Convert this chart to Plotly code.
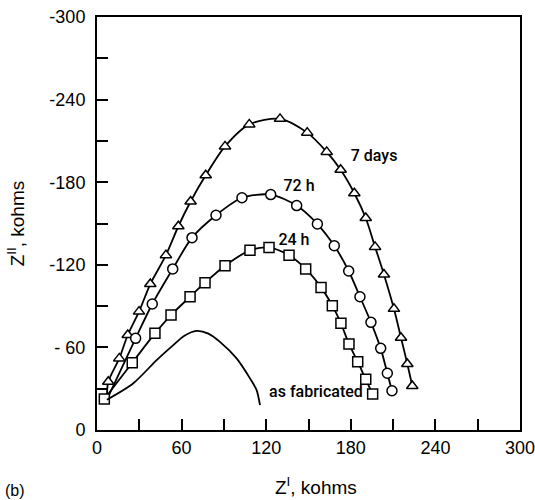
import plotly.graph_objects as go

start_point = (7, -22)

days7_x = [8.0, 15.8, 21.8, 29.8, 37.8, 48.9, 57.7, 66.4, 77.1, 90.8, 108, 129.8, 149.1, 162.9, 172.8, 182.5, 190.6, 197.2, 203.5, 210.6, 215.6, 220.1, 223.6]
days7_y = [-35, -52, -69, -86, -106, -127, -148, -166, -185, -206, -222, -226, -216, -202, -189, -172, -154, -133, -113, -88, -67, -48, -32]

h72_x = [27.4, 39.2, 53.7, 67.4, 84.4, 102.8, 123.2, 141.6, 156.3, 168.3, 178.5, 186.5, 194.3, 201.2, 205.9, 209.2]
h72_y = [-66.6, -91.5, -117, -139.7, -156, -168.7, -171, -163, -149.6, -133.8, -115.5, -96.8, -78.2, -59.3, -41.2, -28.5]

h24_x = [5.2, 25, 41.1, 52.5, 66, 76.6, 90.8, 108.5, 122, 136.2, 148, 158.9, 166.9, 173, 178.7, 184.9, 190.6, 195.5]
h24_y = [-22.5, -48.9, -70.2, -83.5, -96.8, -107, -119.3, -130.5, -132.5, -126.9, -117, -103.6, -90.3, -77.5, -62.5, -49.6, -36.8, -26.1]

fab_x = [7, 25.8, 42.3, 54.1, 62, 70.6, 79, 87.2, 99, 108.5, 113.2, 115.6]
fab_y = [-22, -34, -50.8, -61.7, -68.5, -72, -70, -64, -52, -37.5, -29, -18]

labels = ["7 days", "72 h", "24 h", "as fabricated"]
label_x = [196.5, 143.3, 139.7, 155.3]
label_y = [-198, -176.5, -137, -26.9]

ytick_vals = [0, -60, -120, -180, -240, -300]
ytick_text = ["0", "- 60", "-120", "-180", "-240", "-300"]
yminor_vals = [-30, -90, -150, -210, -270]
xtick_vals = [0, 60, 120, 180, 240, 300]
xtick_text = ["0", "60", "120", "180", "240", "300"]
xminor_vals = [30, 90, 150, 210, 270]

FONT = "Liberation Sans, Arial"

fig = go.Figure()

series = [
    (days7_x, days7_y, "triangle-up", True),
    (h72_x, h72_y, "circle", True),
    (h24_x, h24_y, "square", False),
]
for xs, ys, sym, add_start in series:
    lx = ([start_point[0]] if add_start else []) + xs
    ly = ([start_point[1]] if add_start else []) + ys
    fig.add_trace(go.Scatter(x=lx, y=ly, mode="lines",
                             line=dict(color="black", width=1.8, shape="spline", smoothing=0.8),
                             showlegend=False, hoverinfo="skip"))
    fig.add_trace(go.Scatter(x=xs, y=ys, mode="markers",
                             marker=dict(symbol=sym, size=10, color="white",
                                         line=dict(color="black", width=1.5)),
                             showlegend=False))

fig.add_trace(go.Scatter(x=fab_x, y=fab_y, mode="lines",
                         line=dict(color="black", width=1.8, shape="spline", smoothing=0.8),
                         showlegend=False))

fig.add_trace(go.Scatter(x=label_x, y=label_y, mode="text", text=labels,
                         textfont=dict(family="Roboto, " + FONT, size=16, color="black", weight=500),
                         showlegend=False))

fig.update_layout(
    width=535, height=500,
    margin=dict(l=97, r=15, t=17, b=70),
    paper_bgcolor="white", plot_bgcolor="white",
    font=dict(family=FONT, color="black"),
    annotations=[
        dict(text="(b)", xref="paper", yref="paper",
             x=-94/423, y=-(490-430)/413, showarrow=False,
             xanchor="left", yanchor="middle", font=dict(size=16)),
        dict(text="Z<sup>I</sup>, kohms", xref="paper", yref="paper",
             x=(316-97)/423, y=-(486-430)/413, showarrow=False,
             xanchor="center", yanchor="middle", font=dict(size=19)),
    ],
)

fig.update_xaxes(range=[0, 300], tickvals=xtick_vals, ticktext=xtick_text,
                 ticks="inside", ticklen=11, tickwidth=1.5, tickcolor="black",
                 minor=dict(tickvals=xminor_vals, ticks="inside", ticklen=11,
                            tickwidth=1.5, tickcolor="black", showgrid=False),
                 showline=True, linecolor="black", linewidth=2, mirror=True,
                 showgrid=False, zeroline=False, automargin=False,
                 ticklabeloverflow="allow",
                 tickfont=dict(size=18))
fig.update_yaxes(range=[0, -300], tickvals=ytick_vals, ticktext=ytick_text,
                 ticks="inside", ticklen=11, tickwidth=1.5, tickcolor="black",
                 minor=dict(tickvals=yminor_vals, ticks="inside", ticklen=11,
                            tickwidth=1.5, tickcolor="black", showgrid=False),
                 showline=True, linecolor="black", linewidth=2, mirror=True,
                 showgrid=False, zeroline=False, automargin=False,
                 ticklabeloverflow="allow", ticklabelstandoff=6,
                 tickfont=dict(size=18),
                 title=dict(text="Z<sup>II</sup>, kohms", font=dict(size=19), standoff=20))

fig.write_html("out.html")
